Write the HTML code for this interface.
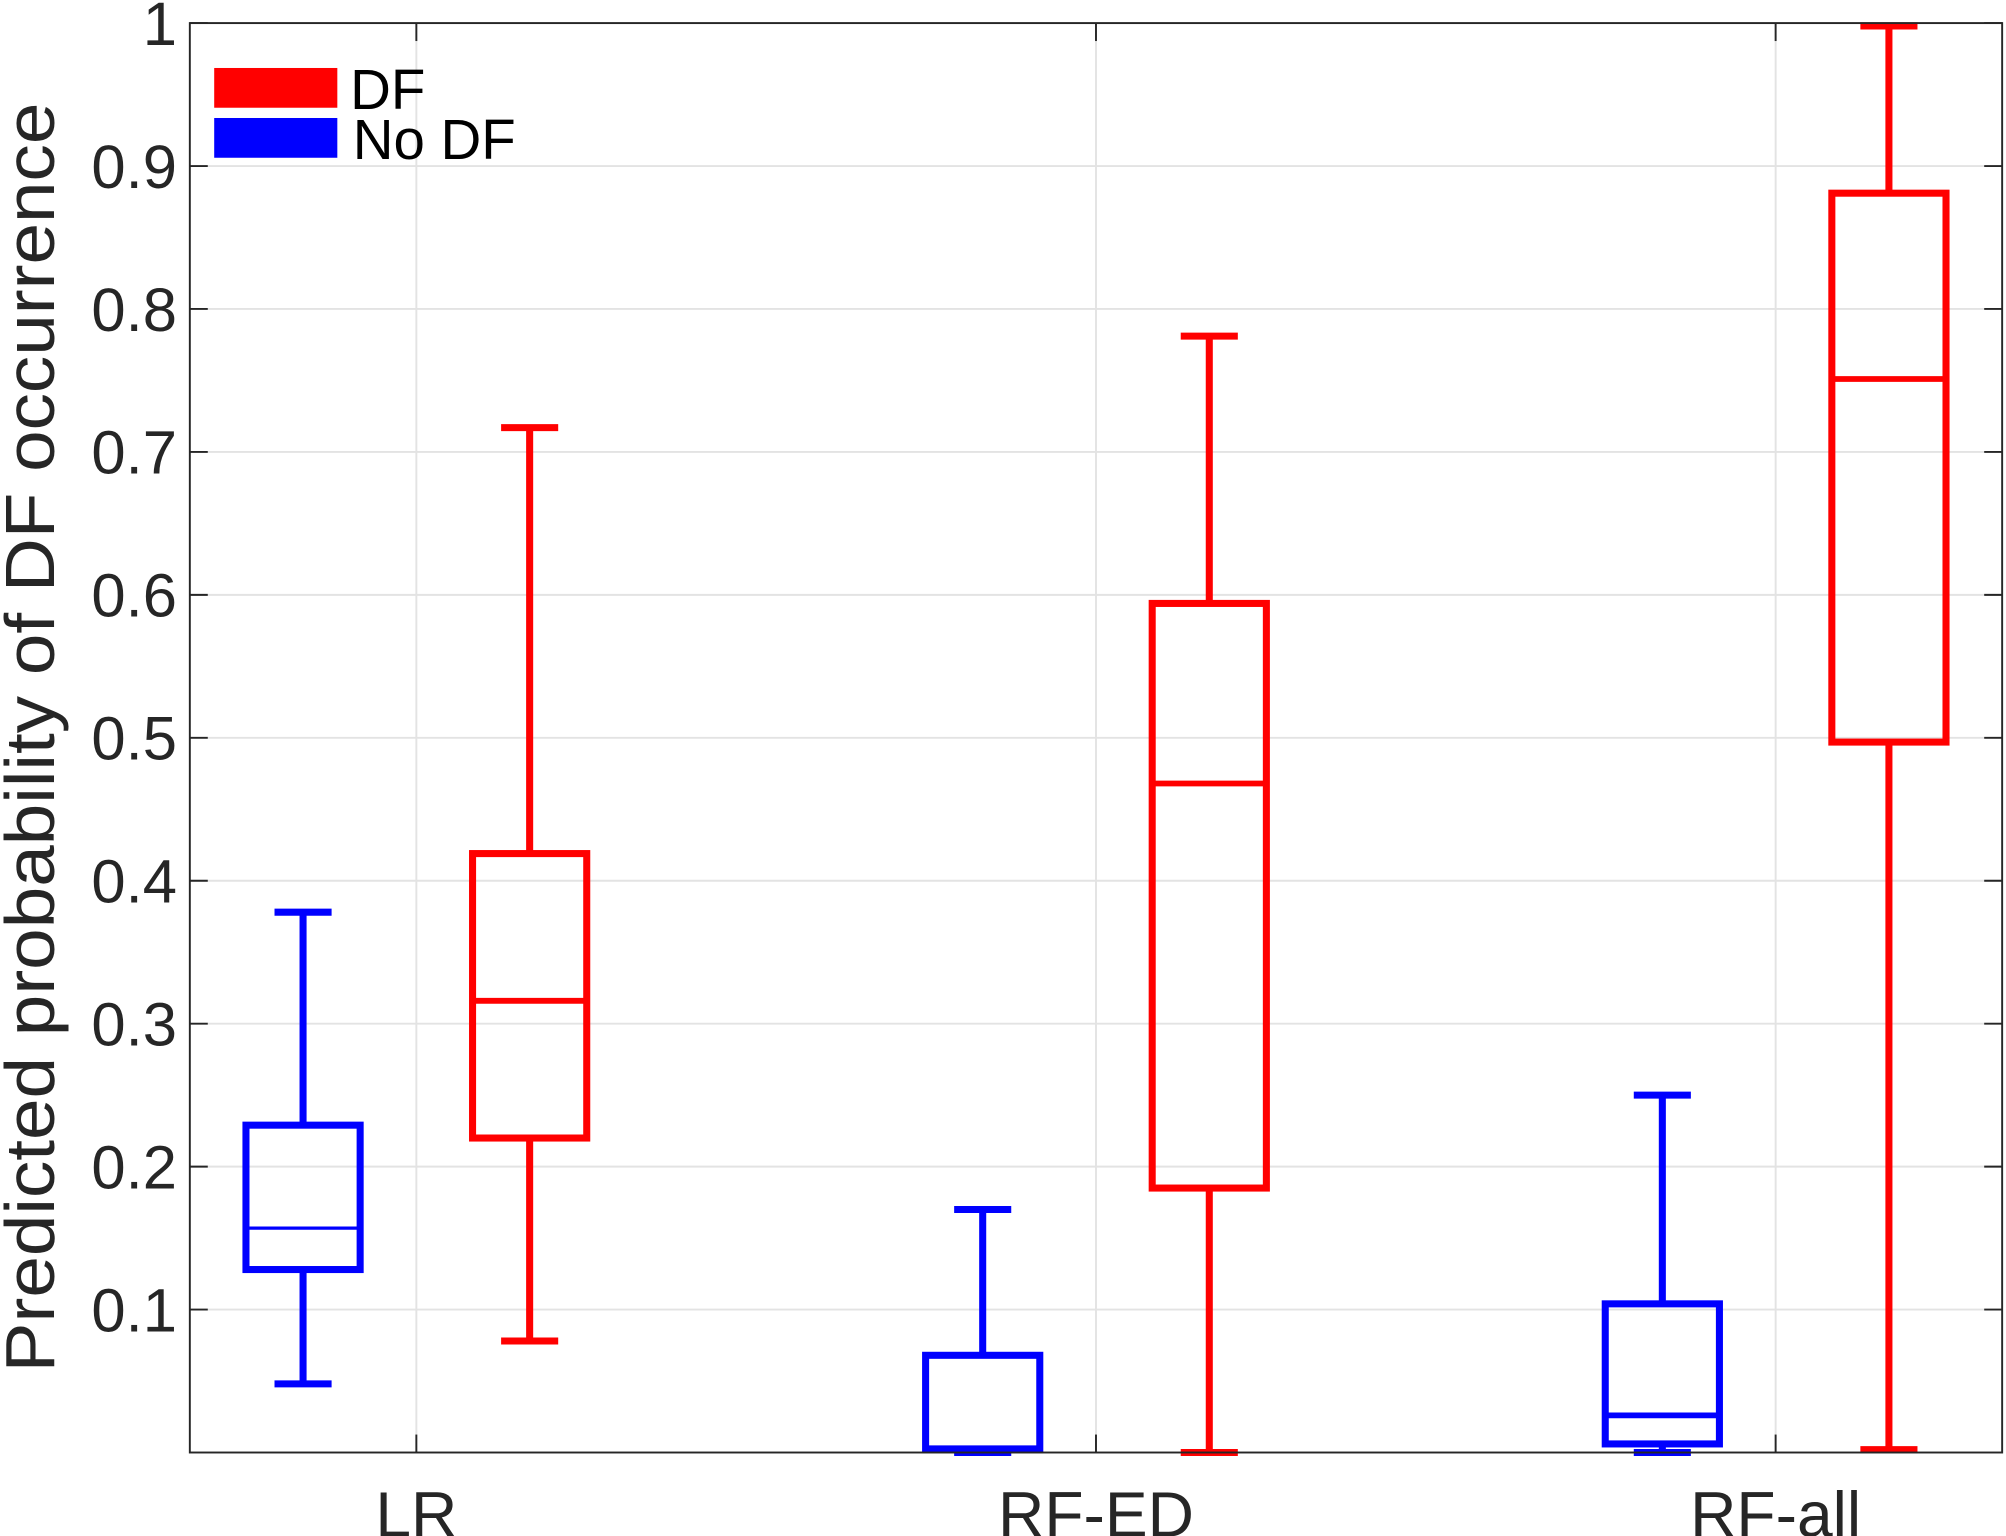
<!DOCTYPE html>
<html><head><meta charset="utf-8"><style>
html,body{margin:0;padding:0;background:#fff;}
svg{display:block;font-family:"Liberation Sans",sans-serif;}
</style></head><body>
<svg id="chart" width="2006" height="1536" viewBox="0 0 1564 1197.6" preserveAspectRatio="none" xmlns="http://www.w3.org/2000/svg">
<g id="grid"></g>
<g id="boxes"></g>
<g id="axes"></g>
<text transform="translate(42,575) rotate(-90)" text-anchor="middle" font-size="54" textLength="990" lengthAdjust="spacingAndGlyphs" fill="#262626">Predicted probability of DF occurrence</text>
<g>
<rect x="167" y="53" width="96" height="31" fill="#ff0000"/>
<text x="273" y="85" font-size="44" fill="#000">DF</text>
<rect x="167" y="92" width="96" height="31" fill="#0000ff"/>
<text x="275" y="124" font-size="44" fill="#000">No DF</text>
</g>
</svg>
<script>
const categories = ["LR", "RF-ED", "RF-all"];
const yTicks = [0.1,0.2,0.3,0.4,0.5,0.6,0.7,0.8,0.9,1];
const yTickLabels = ["0.1","0.2","0.3","0.4","0.5","0.6","0.7","0.8","0.9","1"];
// No DF (blue): [whiskerLow, q1, median, q3, whiskerHigh]
const noDfLow = [0.048, 0.000, 0.000];
const noDfQ1 = [0.128, 0.002, 0.006];
const noDfMed = [0.157, 0.003, 0.026];
const noDfQ3 = [0.229, 0.068, 0.104];
const noDfHigh = [0.378, 0.170, 0.250];
// DF (red)
const dfLow = [0.078, 0.000, 0.002];
const dfQ1 = [0.220, 0.185, 0.497];
const dfMed = [0.316, 0.468, 0.751];
const dfQ3 = [0.419, 0.594, 0.881];
const dfHigh = [0.717, 0.781, 0.998];

const L=148,R=1561,T=18,B=1132.5;
const xmin=0.6667,xmax=3.3333;
const X=v=>L+(v-xmin)/(xmax-xmin)*(R-L);
const Y=v=>B-v*(B-T);
const NS="http://www.w3.org/2000/svg";
function mk(tag,attrs,parent){const e=document.createElementNS(NS,tag);for(const k in attrs)e.setAttribute(k,attrs[k]);parent.appendChild(e);return e;}
const grid=document.getElementById('grid'),boxes=document.getElementById('boxes'),axes=document.getElementById('axes');
yTicks.forEach((t,i)=>{
  const gl=mk('line',{x1:L,x2:R,y1:Y(t),y2:Y(t),stroke:'#e3e3e3','stroke-width':1.5},grid);
  
  
  const tk=mk('line',{x1:L,x2:L+14,y1:Y(t),y2:Y(t),stroke:'#262626','stroke-width':1.5},axes);
  
  
  const tk2=mk('line',{x1:R-14,x2:R,y1:Y(t),y2:Y(t),stroke:'#262626','stroke-width':1.5},axes);
  
  
  const lb=mk('text',{x:L-10,y:Y(t)+17,'text-anchor':'end','font-size':48,fill:'#262626'},axes);
  lb.textContent=yTickLabels[i];
  
  
});
categories.forEach((c,i)=>{
  const x=X(i+1);
  const gl=mk('line',{x1:x,x2:x,y1:T,y2:B,stroke:'#e3e3e3','stroke-width':1.5},grid);
  
  
  const tk=mk('line',{x1:x,x2:x,y1:B-14,y2:B,stroke:'#262626','stroke-width':1.5},axes);
  
  
  const tk2=mk('line',{x1:x,x2:x,y1:T,y2:T+14,stroke:'#262626','stroke-width':1.5},axes);
  
  
  const lb=mk('text',{x:x,y:1198,'text-anchor':'middle','font-size':50,fill:'#262626'},axes);
  lb.textContent=c;
  
  
});
const fr=mk('rect',{x:L,y:T,width:R-L,height:B-T,fill:'none',stroke:'#262626','stroke-width':1.5},axes);


function drawBox(pos,lo,q1,med,q3,hi,color,name,medW){
  const g=mk('g',{},boxes);
  
  
  const hw=(X(0.084)-X(0)), cw=hw/2, sw=5.5;
  const cx=X(pos);
  mk('line',{x1:cx,x2:cx,y1:Y(q3),y2:Y(hi),stroke:color,'stroke-width':sw},g);
  mk('line',{x1:cx,x2:cx,y1:Y(q1),y2:Y(lo),stroke:color,'stroke-width':sw},g);
  mk('line',{x1:cx-cw,x2:cx+cw,y1:Y(hi),y2:Y(hi),stroke:color,'stroke-width':sw},g);
  mk('line',{x1:cx-cw,x2:cx+cw,y1:Y(lo),y2:Y(lo),stroke:color,'stroke-width':sw},g);
  mk('rect',{x:cx-hw,y:Y(q3),width:2*hw,height:Y(q1)-Y(q3),fill:'none',stroke:color,'stroke-width':sw},g);
  mk('line',{x1:cx-hw,x2:cx+hw,y1:Y(med),y2:Y(med),stroke:color,'stroke-width':medW},g);
}
categories.forEach((c,i)=>{
  drawBox(i+1-0.1667,noDfLow[i],noDfQ1[i],noDfMed[i],noDfQ3[i],noDfHigh[i],'#0000ff','box-no-df-'+c.toLowerCase(),i===0?2.5:4.5);
  drawBox(i+1+0.1667,dfLow[i],dfQ1[i],dfMed[i],dfQ3[i],dfHigh[i],'#ff0000','box-df-'+c.toLowerCase(),4.5);
});
</script>
</body></html>
